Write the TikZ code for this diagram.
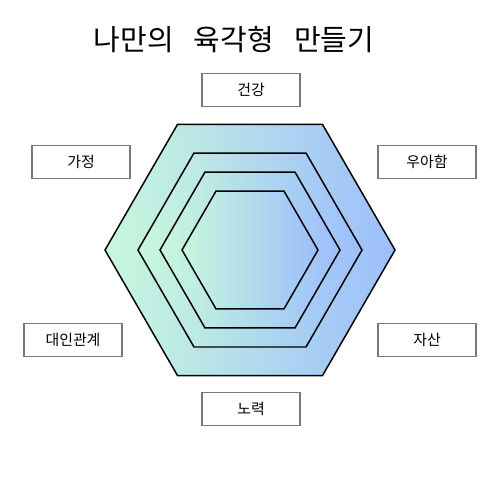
\documentclass[tikz,border=0pt]{standalone}
\usepackage{fontspec}
\setmainfont{Noto Sans CJK KR}
\usetikzlibrary{positioning}
\definecolor{HexGreen}{RGB}{200,248,220}
\definecolor{HexBlue}{RGB}{156,190,252}
\definecolor{BoxGray}{RGB}{120,120,120}
\tikzset{
  hexring/.style={draw=black,line width=0.85pt,left color=HexGreen,right color=HexBlue,
    shading angle=90},
  labelbox/.style={draw=BoxGray,line width=0.6pt,minimum width=1.96cm,
    minimum height=0.66cm,inner sep=0pt,font=\fontsize{8.5}{9}\selectfont},
  titletext/.style={font=\fontsize{16.5}{18}\selectfont}
}

\begin{document}
\begin{tikzpicture}[x=0.02cm,y=-0.02cm]
  \useasboundingbox (0,0) rectangle (500,500);
  \node[titletext] (title) at (234,40) {나만의\hspace{0.7em}육각형\hspace{0.7em}만들기};
  % nested hexagons, each with its own shading
  \foreach \r in {145,112,90,68}{
    \draw[hexring,shift={(250,250)}]
      (0:\r) -- (60:\r) -- (120:\r) -- (180:\r) -- (240:\r) -- (300:\r) -- cycle;}
  \node[labelbox] (health) at (251,90) {건강};
  \node[labelbox] (grace) at (427,162) {우아함};
  \node[labelbox] (wealth) at (427,340) {자산};
  \node[labelbox] (effort) at (251,409) {노력};
  \node[labelbox] (people) at (73,340) {대인관계};
  \node[labelbox] (family) at (81,162) {가정};
\end{tikzpicture}
\end{document}
